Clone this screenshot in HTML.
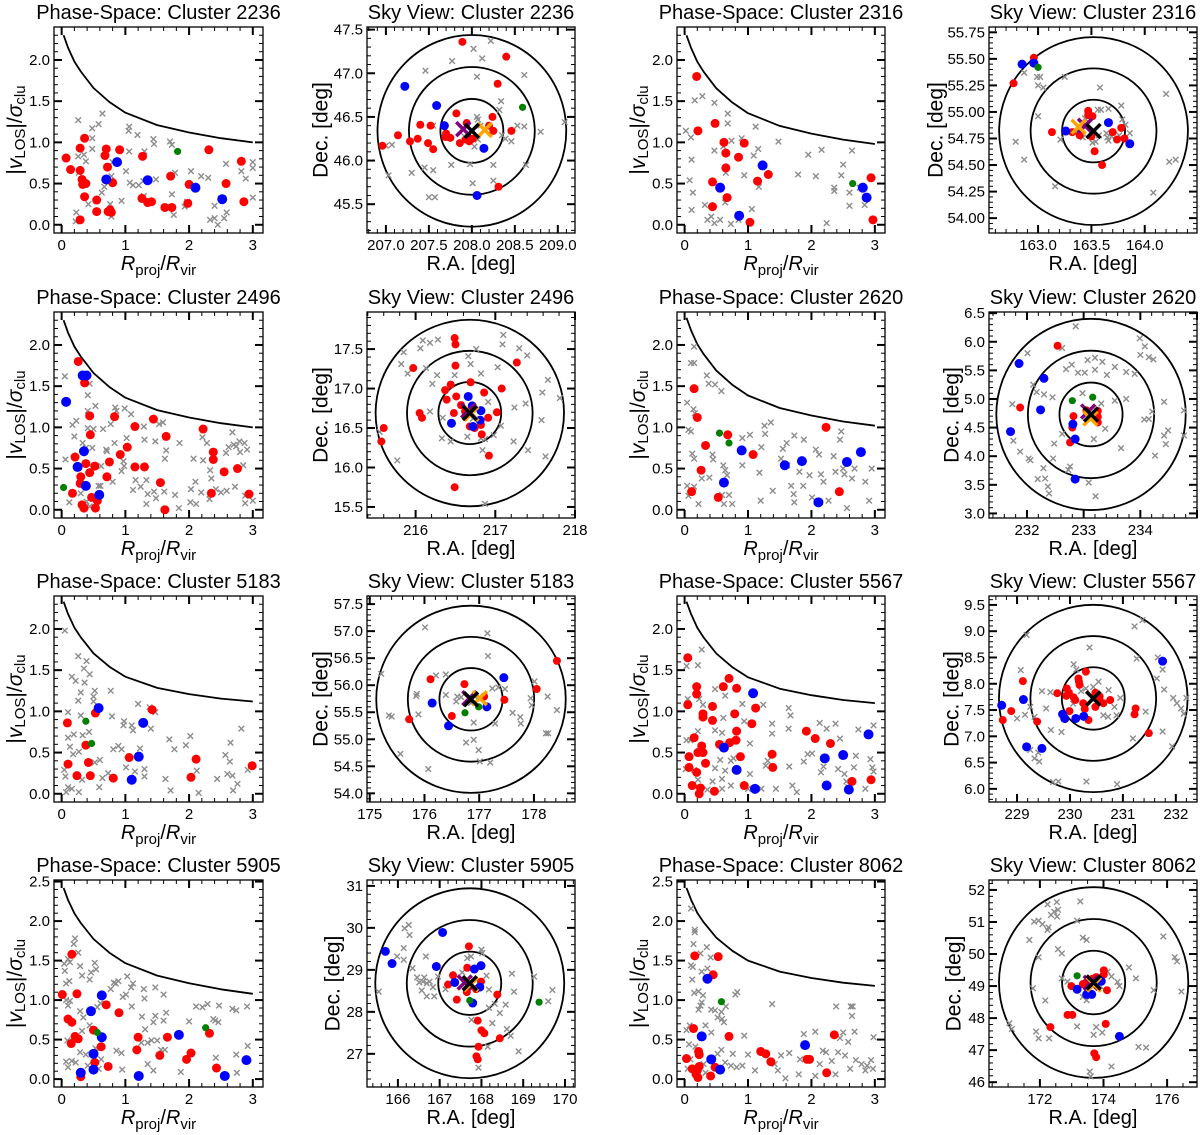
<!DOCTYPE html>
<html><head><meta charset="utf-8"><style>
html,body{margin:0;padding:0;background:#fff;}
svg{display:block;font-family:"Liberation Sans",sans-serif;}
</style></head><body>
<svg id="fig" width="1200" height="1135" viewBox="0 0 1200 1135" xmlns="http://www.w3.org/2000/svg"></svg>
<script>
// ---------- shared curve data (escape-velocity caustic, base shape) ----------
const curveX = [0.03,0.1,0.2,0.3,0.5,0.75,1,1.5,2,2.5,3];
const curveY = [2.3,2.15,1.98,1.86,1.66,1.49,1.36,1.21,1.12,1.05,1.0];

// ---------- Phase-space data [x,y,...] ----------
const ps2236_red=[0.07,0.81,0.14,0.67,0.29,0.93,0.36,1.05,0.29,0.66,0.32,0.55,0.35,0.51,0.38,0.50,0.33,0.49,0.36,0.34,0.29,0.06,0.55,0.30,0.55,0.16,0.68,0.84,0.7,0.92,0.72,0.70,0.8,0.51,0.76,0.18,0.78,0.15,0.73,0.16,0.91,0.91,1.27,0.83,1.26,0.32,1.35,0.27,1.41,0.28,1.62,0.21,1.73,0.21,1.71,0.59,2.0,0.49,1.98,0.26,2.31,0.91,2.58,0.50,2.82,0.77,2.86,0.28];
const ps2236_blue=[0.70,0.55,0.87,0.76,1.35,0.54,2.1,0.45,2.52,0.31];
const ps2236_green=[1.82,0.89];
const ps2236_gray=[0.26,1.27,0.64,1.35,0.48,1.17,0.58,1.22,1.06,1.19,1.05,1.14,1.19,1.09,1.44,1.04,1.45,0.98,1.70,1.01,1.73,0.97,0.48,1.05,0.48,0.92,0.26,0.83,0.35,0.85,0.38,0.77,0.27,0.63,0.8,0.76,0.78,0.59,1.01,0.65,1.06,0.89,1.07,0.51,1.12,0.48,1.21,0.48,1.3,0.89,1.48,0.55,1.73,0.37,1.78,0.63,2.03,0.65,2.19,0.59,2.3,0.57,2.58,0.74,2.4,0.23,2.33,0.06,2.4,0.08,2.45,0.0,2.55,0.08,2.59,0.15,2.82,0.65,3.0,0.76,3.0,0.69,2.89,0.56,3.0,0.33,0.23,0.15,0.22,0.04,0.42,0.25,0.63,0.39,0.67,0.46,0.76,0.25,0.78,0.1,0.94,0.29,1.97,0.28,1.93,0.22,1.76,0.12,1.29,0.35,1.28,0.53];

const ps2316_red=[0.19,1.8,0.21,1.14,0.48,1.23,0.62,1.0,0.65,0.87,0.94,0.99,0.85,0.82,0.65,0.69,0.44,0.52,0.67,0.33,0.44,0.22,1.03,0.03,1.15,0.53,1.32,0.61,2.94,0.57,2.97,0.06];
const ps2316_blue=[0.56,0.45,0.86,0.11,1.23,0.72,2.81,0.45,2.87,0.33];
const ps2316_green=[2.65,0.5];
const ps2316_gray=[0.02,1.14,0.16,1.51,0.28,1.56,0.47,1.48,0.68,1.35,0.68,1.23,0.1,1.06,0.11,0.79,0.08,0.54,0.13,0.39,0.11,0.18,0.32,0.24,0.36,0.06,0.42,0.10,0.47,0.02,0.56,0.06,0.64,0.27,0.65,0.63,0.47,0.90,0.61,0.95,0.73,0.01,0.85,0.06,0.9,1.05,0.94,0.6,1.06,0.19,1.09,0.84,1.12,1.19,1.16,0.92,1.17,0.46,1.48,1.01,1.79,0.61,1.95,0.85,2.07,0.59,2.16,0.91,2.24,0.02,2.36,0.45,2.36,0.41,2.47,0.60,2.5,0.73,2.6,0.39,2.6,0.23,2.64,0.9,2.84,0.24,2.76,0.45,0.74,1.02];

const ps2496_red=[0.26,1.8,0.36,1.54,0.44,1.14,0.45,0.91,0.21,0.64,0.38,0.56,0.52,0.53,0.44,0.45,0.3,0.4,0.29,0.32,0.17,0.2,0.32,0.06,0.35,0.02,0.47,0.15,0.56,0.11,0.53,0.02,0.75,0.58,0.71,0.4,0.83,1.13,0.92,0.67,1.03,0.76,1.15,1.01,1.15,0.52,1.3,0.52,1.44,1.1,1.64,0.89,1.55,0.33,1.62,0.0,2.22,0.98,2.38,0.7,2.38,0.61,2.55,0.46,2.35,0.2,2.76,0.5,2.94,0.19];
const ps2496_blue=[0.07,1.31,0.33,1.63,0.39,1.63,0.35,0.71,0.25,0.52,0.38,0.29,0.59,0.18];
const ps2496_green=[0.03,0.27];
const ps2496_gray=[0.05,1.62,0.06,0.61,0.17,1.03,0.23,1.08,0.2,0.89,0.33,0.81,0.38,0.75,0.41,1.39,0.44,1.53,0.41,1.2,0.53,1.26,0.41,0.99,0.5,0.98,0.48,0.75,0.65,0.98,0.7,0.73,0.71,0.71,0.77,1.04,0.84,1.24,0.86,1.2,0.83,0.81,0.99,1.23,1.09,1.16,1.02,0.87,0.97,0.59,0.98,0.53,0.94,0.47,0.62,0.53,0.61,0.29,0.58,0.29,0.8,0.34,1.12,0.24,1.16,0.36,1.24,0.28,1.33,0.36,1.35,0.19,1.33,0.07,1.45,0.22,1.48,0.14,1.61,0.22,1.62,0.62,1.64,0.72,1.59,1.06,1.53,1.04,1.3,0.85,1.47,0.83,1.29,1.01,1.85,0.81,1.78,0.18,1.84,0.02,2.02,0.09,2.11,0.07,2.03,0.25,2.07,0.62,2.1,0.34,2.19,0.21,2.22,0.6,2.28,0.81,2.21,0.88,2.33,0.48,2.35,0.38,2.32,0.13,2.42,0.25,2.5,0.21,2.58,0.69,2.62,0.76,2.59,0.23,2.68,0.94,2.7,0.79,2.74,0.77,2.79,0.83,2.8,0.7,2.87,0.81,2.91,0.73,2.85,0.54,2.72,0.28,2.88,0.08,3.0,0.11,2.88,0.17,0.12,0.09,0.3,0.2,0.44,0.04,0.39,0.1];

const ps2620_red=[0.15,1.47,0.2,1.12,0.33,0.78,0.26,0.48,0.11,0.22,0.53,0.15,0.68,0.91,1.08,0.67,2.23,1.0,2.44,0.22];
const ps2620_blue=[0.62,0.33,0.9,0.72,1.58,0.54,1.85,0.59,2.11,0.09,2.56,0.58,2.78,0.7];
const ps2620_green=[0.55,0.93,0.7,0.81];
const ps2620_gray=[0.04,1.3,0.15,1.78,0.1,1.78,0.15,1.98,0.35,1.63,0.38,1.53,0.48,1.52,0.58,1.44,0.14,1.22,0.16,1.17,0.06,0.97,0.1,0.95,0.12,0.68,0.15,0.62,0.04,0.29,0.06,0.17,0.15,0.28,0.22,0.07,0.27,0.38,0.39,0.39,0.44,0.67,0.45,0.61,0.61,0.54,0.64,0.48,0.67,0.42,0.59,0.18,0.62,0.07,0.7,0.18,0.75,0.07,0.91,0.54,0.91,0.87,1.03,0.91,1.18,0.45,1.2,0.11,1.21,0.76,1.26,1.02,1.27,0.92,1.36,1.06,1.39,0.23,1.52,0.62,1.55,0.74,1.61,0.81,1.62,0.54,1.68,0.29,1.72,0.19,1.73,0.09,1.81,0.46,1.87,0.29,1.97,0.42,2.01,0.15,2.07,0.73,2.12,0.67,2.15,0.43,2.19,0.34,2.27,0.11,2.35,0.65,2.38,0.46,2.45,0.85,2.47,0.95,2.5,0.5,2.52,0.43,2.56,0.02,2.64,0.38,2.68,0.5,2.85,0.34,2.91,0.11,2.95,0.5,1.88,0.85,1.73,0.9];

const ps5183_red=[0.09,0.86,0.1,0.36,0.38,0.59,0.24,0.22,0.42,0.38,0.45,0.22,0.53,0.98,0.81,0.19,1.06,0.44,1.42,1.02,2.03,0.2,2.11,0.42,2.99,0.34];
const ps5183_blue=[0.58,1.04,1.28,0.86,1.1,0.17,1.21,0.45];
const ps5183_green=[0.38,0.88,0.47,0.61];
const ps5183_gray=[0.05,1.98,0.26,1.67,0.39,1.61,0.35,1.52,0.44,1.45,0.16,1.42,0.22,1.37,0.36,1.35,0.3,1.23,0.52,1.25,0.5,1.18,0.26,1.13,0.77,1.25,0.1,0.99,0.3,0.95,0.5,1.12,0.19,0.72,0.1,0.68,0.33,0.71,0.43,0.75,0.13,0.57,0.27,0.51,0.18,0.48,0.04,0.29,0.06,0.21,0.1,0.08,0.16,0.06,0.27,0.02,0.07,0.02,0.32,0.17,0.52,0.38,0.6,0.41,0.64,0.19,0.59,0.08,0.73,0.25,0.81,0.54,0.79,0.94,0.89,0.58,0.98,0.88,0.97,0.83,1.1,0.83,1.12,0.77,1.01,0.32,0.94,0.54,1.15,0.27,1.23,0.55,1.3,0.3,1.3,0.21,1.2,1.09,1.4,0.79,1.47,0.99,1.38,1.05,1.69,0.66,1.77,0.54,1.63,0.18,1.71,0.04,1.95,0.59,2.02,0.7,2.12,0.28,2.15,0.01,2.44,0.18,2.57,0.47,2.64,0.39,2.65,0.62,2.6,0.24,2.68,0.22,2.76,0.12,2.69,0.04,2.82,0.79,2.92,0.29];

const ps5567_red=[0.05,1.65,0.05,1.08,0.19,1.3,0.19,1.21,0.29,0.97,0.29,0.93,0.15,0.68,0.07,0.45,0.07,0.32,0.21,0.5,0.29,0.5,0.27,0.58,0.33,0.37,0.19,0.26,0.12,0.1,0.25,0.07,0.23,0.0,0.47,0.03,0.44,1.06,0.44,0.89,0.61,1.3,0.7,1.4,0.82,1.28,0.79,0.97,0.82,0.76,0.81,0.65,0.71,0.62,0.55,0.6,0.88,0.45,0.94,0.1,1.06,0.85,1.12,1.04,1.38,0.48,1.39,0.32,1.92,0.76,2.06,0.67,2.3,0.61,2.64,0.15,2.94,0.17];
const ps5567_blue=[0.62,0.56,0.82,0.29,1.08,1.22,1.11,0.06,2.21,0.43,2.24,0.1,2.5,0.47,2.59,0.05,2.9,0.72];
const ps5567_green=[];
const ps5567_gray=[0.05,1.15,0.03,1.55,0.21,1.56,0.27,1.75,0.23,1.15,0.29,1.08,0.03,0.65,0.09,0.65,0.21,0.76,0.02,0.3,0.15,0.29,0.21,0.17,0.36,0.05,0.44,0.15,0.48,0.31,0.56,0.41,0.59,0.18,0.64,0.28,0.59,0.06,0.73,0.1,0.73,0.4,0.77,0.43,0.48,0.77,0.59,0.74,0.61,0.92,0.64,1.19,0.48,1.27,0.91,1.09,0.94,0.88,1.03,0.61,1.03,0.24,1.0,0.06,1.21,0.06,1.24,1.08,1.38,0.85,1.38,0.73,1.28,0.34,1.31,0.4,1.44,0.06,1.64,1.04,1.67,0.95,1.64,0.79,1.65,0.33,1.7,0.1,1.77,0.02,1.88,0.39,1.94,0.48,2.01,0.49,2.13,0.86,2.15,0.26,2.19,0.33,2.24,0.79,2.38,0.85,2.42,0.3,2.45,0.67,2.52,0.24,2.55,0.15,2.58,0.08,2.67,0.32,2.7,0.46,2.74,0.78,2.85,0.06,2.93,0.42,2.98,0.83,2.96,0.32,2.98,0.27];

const ps5905_red=[0.16,1.58,0.01,1.07,0.24,1.08,0.1,0.76,0.16,0.72,0.15,0.45,0.21,0.54,0.26,0.51,0.5,0.62,0.62,0.41,0.52,0.21,0.73,0.16,0.3,0.03,0.7,0.94,0.9,0.84,1.2,0.53,1.18,0.37,1.54,0.3,1.66,0.53,1.96,0.25,2.03,0.33,2.32,0.58,2.43,0.14];
const ps5905_blue=[0.63,1.06,0.46,0.86,0.63,0.53,0.5,0.32,0.5,0.12,0.3,0.08,1.21,0.04,1.84,0.56,2.56,0.04,2.9,0.24];
const ps5905_green=[0.56,0.59,2.26,0.65];
const ps5905_gray=[0.21,1.78,0.19,1.71,0.26,1.6,0.1,1.52,0.04,1.46,0.13,1.48,0.05,1.37,0.12,1.24,0.07,1.21,0.29,1.43,0.32,1.31,0.46,1.35,0.52,1.47,0.54,1.39,0.44,1.26,0.07,1.0,0.13,0.99,0.1,0.93,0.29,0.86,0.34,0.78,0.44,0.68,0.32,0.61,0.09,0.49,0.07,0.22,0.1,0.15,0.16,0.23,0.22,0.21,0.29,0.34,0.38,0.31,0.41,0.17,0.53,0.39,0.58,0.13,0.62,0.25,0.56,0.91,0.61,0.96,0.77,1.14,0.82,1.22,0.85,1.21,0.89,1.24,1.03,1.3,0.96,1.04,1.01,1.07,1.09,1.16,1.12,1.21,1.1,0.92,1.29,1.14,1.3,1.02,1.47,1.16,1.6,1.07,1.26,0.79,1.47,0.8,1.6,0.74,1.64,0.84,1.44,0.72,1.31,0.63,1.25,0.46,1.35,0.46,1.41,0.49,1.5,0.49,1.56,0.37,1.62,0.37,0.95,0.12,0.94,0.33,0.86,0.36,1.35,0.19,1.44,0.11,1.87,0.09,2.0,0.73,2.11,0.92,2.21,0.91,2.29,0.95,2.38,0.76,2.47,0.93,2.41,0.74,2.46,0.72,2.42,0.27,2.68,0.89,2.74,0.87,2.91,0.92,2.92,0.42,2.75,0.08,2.74,0.31];

const ps8062_red=[0.16,1.56,0.53,1.55,0.45,1.32,0.14,0.64,0.7,0.54,0.03,0.26,0.22,0.35,0.23,0.31,0.12,0.13,0.2,0.11,0.23,0.16,0.18,0.06,0.21,0.02,0.41,0.04,0.48,0.15,1.2,0.35,1.28,0.32,1.36,0.22,1.93,0.25,1.97,0.25,2.24,0.08,2.36,0.56];
const ps8062_blue=[0.36,1.27,0.27,0.54,0.42,0.25,0.56,0.12,1.9,0.43];
const ps8062_green=[0.58,0.98];
const ps8062_gray=[0.1,2.16,0.16,1.89,0.16,1.86,0.14,1.71,0.35,1.67,0.25,1.59,0.41,1.54,0.1,1.44,0.13,1.42,0.27,1.36,0.36,1.4,0.12,1.26,0.15,1.09,0.22,1.11,0.29,1.06,0.22,0.88,0.25,0.93,0.27,0.97,0.42,0.88,0.48,0.87,0.52,0.78,0.59,0.76,0.62,0.72,0.58,0.85,0.65,0.92,0.03,0.62,0.08,0.68,0.33,0.68,0.42,0.59,0.07,0.44,0.17,0.41,0.09,0.25,0.05,0.13,0.3,0.19,0.33,0.08,0.52,0.32,0.58,0.37,0.64,0.21,0.73,0.17,0.76,0.32,0.82,0.15,0.83,1.1,0.8,1.07,0.91,0.17,0.94,0.55,1.0,0.31,1.11,0.11,1.38,0.95,1.42,0.19,1.47,0.11,1.52,0.3,1.59,0.01,1.65,0.33,1.8,0.06,1.82,0.25,1.88,0.57,2.06,0.6,2.06,0.04,2.13,0.19,2.18,0.36,2.23,0.34,2.32,0.23,2.38,0.06,2.39,0.92,2.42,0.34,2.45,0.52,2.5,0.59,2.53,0.3,2.58,0.47,2.64,0.8,2.62,0.92,2.65,0.92,2.68,0.6,2.7,0.24,2.79,0.19,2.85,0.11,2.88,0.17,2.94,0.24,2.98,0.53,2.97,0.13,2.61,0.13];

// ---------- Sky data [ra,dec,...] ----------
const sk2236_red=[207.89,47.36,208.40,47.19,208.30,46.88,207.82,46.54,207.4,46.41,207.52,46.40,207.14,46.29,207.37,46.25,207.28,46.22,206.96,46.17,207.49,46.20,207.55,46.13,207.7,46.31,207.72,46.27,207.75,46.26,207.69,46.27,207.86,46.2,207.93,46.24,207.97,46.22,208.01,46.25,207.94,46.43,208.24,46.50,208.25,46.34,208.2,46.4,208.46,46.34,208.31,45.70];
const sk2236_blue=[207.22,46.85,207.59,46.63,207.68,46.40,208.14,46.14,208.06,45.6];
const sk2236_green=[208.59,46.61];
const sk2236_gray=[208.02,47.28,208.22,47.37,208.12,47.17,207.77,47.14,207.46,47.03,208.06,46.96,208.61,46.98,208.34,46.68,208.32,46.58,208.06,46.50,208.07,46.47,208.53,46.40,208.61,46.39,208.8,46.33,209.08,46.44,208.39,46.25,208.46,46.22,208.35,46.29,208.63,45.95,208.25,45.95,207.76,45.95,207.98,45.96,208.01,45.74,208.25,45.77,207.45,45.92,207.3,45.86,207.55,45.89,207.5,45.58,207.57,45.58,207.0,46.17,207.07,46.18,207.03,45.83,207.55,46.40,208.07,46.24,208.03,46.16,207.91,46.28,208.1,46.4];
const sk2236_mark=[207.9,46.36,208.15,46.35,208.0,46.34];

const sk2316_red=[162.96,55.51,162.77,55.27,163.13,54.81,163.32,54.81,163.39,54.78,163.47,54.97,163.51,54.96,163.47,55.01,163.5,54.77,163.53,54.63,163.6,54.5,163.7,54.81,163.78,54.85,163.74,54.74,163.81,54.75];
const sk2316_blue=[162.85,55.45,162.96,55.46,163.26,54.82,163.66,54.9,163.86,54.7];
const sk2316_green=[163.0,55.42];
const sk2316_gray=[162.87,55.37,162.99,55.33,163.02,55.33,163.0,55.25,163.05,55.23,163.25,55.33,163.58,55.23,163.0,54.96,162.79,54.72,162.87,54.55,163.16,54.3,164.2,55.17,164.23,54.53,164.29,54.55,164.08,54.24,163.78,55.06,163.66,55.03,163.56,55.02,163.59,55.02,163.79,54.93,163.82,54.88,163.86,54.8,163.76,54.78,163.64,54.8,163.65,54.76,163.57,54.78,163.54,54.72,163.51,54.71,163.42,54.76,163.35,54.8,163.21,54.74,163.44,54.94,163.66,54.73,163.69,54.77];
const sk2316_mark=[163.44,54.87,163.38,54.86,163.52,54.82];

const sk2496_red=[216.49,17.64,216.5,17.56,215.97,17.26,216.5,17.29,216.44,17.05,216.37,16.98,216.39,16.86,216.51,16.9,216.69,17.08,216.86,16.95,217.08,17.0,217.27,17.33,216.05,16.69,216.08,16.63,215.6,16.5,215.57,16.33,216.49,15.75,216.92,16.15,216.83,16.42,216.82,16.54,216.91,16.63,217.02,16.7,216.57,16.79,216.62,16.71,216.68,16.52,216.74,16.5,216.48,16.69];
const sk2496_blue=[216.66,16.9,216.82,16.72,216.45,16.56,216.81,16.6,216.72,16.52,216.71,16.78];
const sk2496_green=[];
const sk2496_gray=[216.09,17.61,216.28,17.62,216.18,17.58,215.85,17.46,216.06,17.51,215.82,17.31,215.9,17.19,216.13,17.26,216.21,17.06,216.27,17.17,216.49,17.17,216.66,17.41,216.76,17.5,216.69,17.31,216.82,17.19,217.03,17.27,217.1,17.68,217.09,17.56,217.3,17.51,217.4,17.42,217.66,17.11,217.81,16.88,217.59,16.95,217.38,16.81,217.24,16.76,217.58,16.6,217.23,16.33,217.41,16.22,217.63,16.14,216.98,16.41,216.84,16.22,216.87,16.36,216.33,16.37,216.18,16.71,215.77,16.09,215.55,16.45,216.87,15.54,217.07,16.53,216.34,16.63,216.91,16.83,216.44,16.33,216.65,16.39,216.82,16.37,216.72,16.62];
const sk2496_mark=[216.66,16.72,216.7,16.68,216.68,16.69];

const sk2620_red=[232.54,5.93,231.88,4.85,232.82,4.7,232.8,4.5,232.76,4.24,233.25,4.79,233.25,4.69,233.25,4.59,233.05,4.8];
const sk2620_blue=[231.86,5.62,232.3,5.36,232.24,4.81,231.71,4.43,232.81,4.56,232.85,4.3,232.85,3.6];
const sk2620_green=[232.8,4.97,233.16,5.03];
const sk2620_gray=[232.86,6.27,232.01,5.8,233.99,6.06,234.08,5.92,234.0,5.77,234.15,5.73,234.23,5.69,232.62,5.89,232.79,5.6,233.07,5.68,233.2,5.72,233.33,5.65,232.69,5.52,233.55,5.56,233.75,5.47,233.9,5.44,232.9,5.46,233.02,5.46,233.2,5.51,233.41,5.42,231.74,4.91,232.11,5.25,232.17,5.12,232.3,5.08,232.45,5.03,231.76,4.27,231.88,4.08,232.03,3.96,232.06,3.93,232.29,3.79,232.32,3.61,232.37,3.47,232.39,3.35,232.19,3.6,232.46,3.96,232.73,3.76,232.76,3.82,233.09,3.54,233.21,3.3,233.66,4.14,233.55,4.97,233.75,5.0,234.26,4.01,234.07,4.64,234.15,4.65,234.21,4.78,234.42,4.95,234.42,4.36,234.49,4.45,234.45,4.21,234.77,4.36,234.77,4.8,232.48,4.22,232.62,4.39,233.18,4.3,233.38,4.48,233.31,4.92,232.98,5.1];
const sk2620_mark=[233.08,4.78,233.12,4.66,233.13,4.73];

const sk5183_red=[176.11,56.11,176.73,56.02,176.5,55.43,175.72,55.37,177.09,55.79,177.46,55.73,178.05,55.93,178.42,56.45];
const sk5183_blue=[177.45,56.14,176.14,55.67,176.44,55.25,177.14,55.6];
const sk5183_green=[176.74,55.49,176.99,55.6];
const sk5183_gray=[176.01,57.07,177.15,56.96,177.16,56.54,175.21,56.21,176.21,56.18,176.39,56.2,175.86,55.84,175.85,55.8,176.39,55.82,176.6,55.79,176.67,55.78,176.92,55.79,177.24,55.94,177.35,55.96,177.47,55.93,177.94,55.76,178.01,56.07,178.25,55.79,178.42,55.54,178.22,55.11,178.26,55.11,177.96,55.63,177.75,55.41,177.76,55.29,177.61,55.49,177.29,55.29,176.9,55.31,176.76,54.94,176.9,54.99,176.99,54.8,177.01,54.59,177.2,54.57,176.07,54.45,175.56,54.73,175.35,55.44,175.4,55.42,175.89,55.46,176.85,55.67,176.58,55.7];
const sk5183_mark=[176.82,55.76,177.01,55.76,176.85,55.74];

const sk5567_red=[229.11,8.05,228.89,7.48,228.73,7.31,229.38,7.28,229.76,7.82,229.94,7.91,229.98,7.83,229.93,7.77,230.07,7.74,230.16,8.1,230.17,8.04,230.3,8.23,230.18,7.98,230.1,7.69,229.99,7.48,230.25,7.63,230.28,7.52,230.35,7.31,230.48,7.83,230.56,7.76,230.48,7.56,230.63,7.63,230.76,7.69,231.24,7.53,231.22,7.42,231.49,7.06,229.91,7.33,230.56,7.69];
const sk5567_blue=[228.71,7.59,229.12,7.7,229.18,6.8,229.47,6.77,229.86,7.42,229.9,7.34,230.11,7.34,230.26,7.38,231.75,8.43];
const sk5567_green=[];
const sk5567_gray=[229.07,8.26,229.18,8.93,230.37,8.69,231.22,9.09,231.37,9.21,231.26,8.48,231.66,8.5,231.75,8.27,231.64,8.1,231.78,7.89,231.95,7.73,232.02,7.63,232.1,7.53,232.15,7.43,232.2,7.73,231.93,6.81,231.75,7.09,231.43,7.47,231.19,6.96,230.89,6.09,230.31,6.14,229.78,6.14,229.68,6.13,229.4,6.69,229.42,6.52,229.33,6.58,229.25,6.74,229.0,7.34,229.15,7.41,229.33,7.37,229.64,7.12,229.84,7.08,229.47,7.86,229.63,7.84,229.55,7.53,229.25,7.56,230.07,8.37,230.12,8.27,230.54,8.04,230.73,7.88,230.95,7.73,230.84,7.56,230.88,7.4,230.63,7.4,230.72,7.37,230.06,7.62,230.3,7.91,230.21,7.86,230.44,7.94];
const sk5567_mark=[230.44,7.72,230.44,7.72,230.44,7.72];

const sk5905_red=[167.7,29.56,167.66,29.05,167.32,28.87,167.2,28.65,167.41,28.29,167.65,28.47,167.87,28.54,167.99,28.72,168.38,28.41,167.91,27.79,168.0,27.56,168.07,27.49,167.93,27.17,167.88,26.94,167.91,26.87,168.44,27.37];
const sk5905_blue=[165.7,29.44,165.86,29.15,167.07,29.89,166.92,29.08,167.36,28.7,167.83,29.02,167.99,29.1,167.96,28.59,167.79,28.21];
const sk5905_green=[167.72,28.27,169.38,28.23];
const sk5905_gray=[166.16,29.99,166.26,30.07,166.28,29.83,166.14,29.52,166.14,29.24,166.35,29.04,166.46,28.82,166.51,28.7,166.6,28.72,166.63,28.82,166.69,28.68,166.76,28.72,166.84,28.59,166.96,28.84,167.14,28.54,166.67,29.32,166.87,28.37,166.57,28.51,166.69,28.37,165.54,28.48,165.98,29.32,167.66,29.28,167.75,29.32,168.0,29.48,168.02,29.4,167.54,28.94,168.12,28.86,168.18,28.53,168.18,28.1,168.58,28.17,168.73,28.91,168.78,28.48,169.26,28.84,169.7,28.52,169.6,28.25,168.44,27.97,168.32,28.19,168.61,27.59,168.7,27.43,168.89,27.06,168.15,27.17,167.93,26.67,168.26,27.73,167.76,27.81];
const sk5905_mark=[167.6,28.7,167.75,28.66,167.72,28.68];

const sk8062_red=[172.99,49.0,173.35,49.06,173.47,49.13,173.65,49.23,173.77,49.28,174.01,49.49,174.01,49.36,174.11,48.87,172.87,48.1,173.02,48.1,172.33,47.72,174.07,47.82,173.71,46.9,173.77,46.78];
const sk8062_blue=[173.17,48.9,173.47,48.74,173.63,48.74,173.93,49.15,174.5,47.43];
const sk8062_green=[173.17,49.32];
const sk8062_gray=[171.82,51.01,171.96,51.04,172.08,50.93,172.24,50.75,172.35,51.22,172.24,51.55,172.45,51.32,172.57,51.38,172.53,51.62,172.54,51.17,172.27,50.83,171.67,50.44,173.27,51.64,173.17,51.04,173.35,50.51,173.47,50.44,172.57,50.15,172.69,50.02,171.96,49.9,171.78,48.93,172.17,48.55,171.88,47.58,171.96,47.37,172.29,47.37,171.04,47.84,171.12,47.66,174.8,49.58,175.02,49.24,175.58,48.87,175.88,50.55,176.24,49.9,176.31,49.77,176.45,48.83,175.1,47.1,175.34,47.08,174.25,46.49,173.57,46.33,173.6,46.18,173.17,47.74,173.69,47.48,173.96,47.55,173.77,47.72,172.69,49.24,172.87,49.14,174.25,49.3,174.5,49.0,174.13,49.45,173.35,48.66,173.47,48.56,174.44,49.13,173.9,49.0];
const sk8062_mark=[173.6,49.1,173.7,49.05,173.69,49.11];

// ---------- circle radii (R_vir in degrees) ----------
const rvirDeg = {c2236:0.366,c2316:0.295,c2496:0.394,c2620:0.557,c5183:0.577,c5567:0.594,c5905:0.754,c8062:0.992};

const NS='http://www.w3.org/2000/svg';
const svg=document.getElementById('fig');
function mk(tag,attrs,parent){const e=document.createElementNS(NS,tag);for(const k in attrs)e.setAttribute(k,attrs[k]);(parent||svg).appendChild(e);return e;}

const COLS=[[54,263],[367,575],[677,885],[989,1197]];
const ROWS=[[27,233],[312,518],[596,802],[880,1087]];

const panels=[
 {t:'ps',id:'2236',r:0,c:0,end:1.0,start:2.3,red:ps2236_red,blue:ps2236_blue,green:ps2236_green,gray:ps2236_gray},
 {t:'sky',id:'2236',r:0,c:1,xr:[206.78,209.2],yr:[45.17,47.53],xt:[207,209,0.5,0.1,1],yt:[45.5,47.5,0.5,0.1,1],lab:46,red:sk2236_red,blue:sk2236_blue,green:sk2236_green,gray:sk2236_gray,mark:sk2236_mark,R:rvirDeg.c2236},
 {t:'ps',id:'2316',r:0,c:2,end:0.98,start:2.3,red:ps2316_red,blue:ps2316_blue,green:ps2316_green,gray:ps2316_gray},
 {t:'sky',id:'2316',r:0,c:3,xr:[162.54,164.49],yr:[53.86,55.80],xt:[163,164,0.5,0.1,1],yt:[54,55.75,0.25,0.05,2],lab:53,red:sk2316_red,blue:sk2316_blue,green:sk2316_green,gray:sk2316_gray,mark:sk2316_mark,R:rvirDeg.c2316},
 {t:'ps',id:'2496',r:1,c:0,end:1.0,start:2.3,red:ps2496_red,blue:ps2496_blue,green:ps2496_green,gray:ps2496_gray},
 {t:'sky',id:'2496',r:1,c:1,xr:[215.39,218.0],yr:[15.36,17.97],xt:[216,218,1,0.2,0],yt:[15.5,17.5,0.5,0.1,1],lab:46,red:sk2496_red,blue:sk2496_blue,green:sk2496_green,gray:sk2496_gray,mark:sk2496_mark,R:rvirDeg.c2496},
 {t:'ps',id:'2620',r:1,c:2,end:1.02,start:2.33,red:ps2620_red,blue:ps2620_blue,green:ps2620_green,gray:ps2620_gray},
 {t:'sky',id:'2620',r:1,c:3,xr:[231.33,235.0],yr:[2.92,6.52],xt:[232,234,1,0.2,0],yt:[3,6.5,0.5,0.1,1],lab:37,red:sk2620_red,blue:sk2620_blue,green:sk2620_green,gray:sk2620_gray,mark:sk2620_mark,R:rvirDeg.c2620},
 {t:'ps',id:'5183',r:2,c:0,end:1.12,start:2.33,red:ps5183_red,blue:ps5183_blue,green:ps5183_green,gray:ps5183_gray},
 {t:'sky',id:'5183',r:2,c:1,xr:[174.95,178.75],yr:[53.84,57.65],xt:[175,178,1,0.2,0],yt:[54,57.5,0.5,0.1,1],lab:46,red:sk5183_red,blue:sk5183_blue,green:sk5183_green,gray:sk5183_gray,mark:sk5183_mark,R:rvirDeg.c5183},
 {t:'ps',id:'5567',r:2,c:2,end:1.1,start:2.33,red:ps5567_red,blue:ps5567_blue,green:ps5567_green,gray:ps5567_gray},
 {t:'sky',id:'5567',r:2,c:3,xr:[228.47,232.4],yr:[5.75,9.67],xt:[229,232,1,0.2,0],yt:[6,9.5,0.5,0.1,1],lab:37,red:sk5567_red,blue:sk5567_blue,green:sk5567_green,gray:sk5567_gray,mark:sk5567_mark,R:rvirDeg.c5567},
 {t:'ps',id:'5905',r:3,c:0,end:1.08,start:2.42,red:ps5905_red,blue:ps5905_blue,green:ps5905_green,gray:ps5905_gray},
 {t:'sky',id:'5905',r:3,c:1,xr:[165.26,170.24],yr:[26.21,31.14],xt:[166,170,1,0.2,0],yt:[27,31,1,0.2,0],lab:34,red:sk5905_red,blue:sk5905_blue,green:sk5905_green,gray:sk5905_gray,mark:sk5905_mark,R:rvirDeg.c5905},
 {t:'ps',id:'8062',r:3,c:2,end:1.18,start:2.42,red:ps8062_red,blue:ps8062_blue,green:ps8062_green,gray:ps8062_gray},
 {t:'sky',id:'8062',r:3,c:3,xr:[170.4,176.94],yr:[45.85,52.31],xt:[172,176,2,0.5,0],yt:[46,52,1,0.2,0],lab:35,red:sk8062_red,blue:sk8062_blue,green:sk8062_green,gray:sk8062_gray,mark:sk8062_mark,R:rvirDeg.c8062},
];

function drawPanel(p){
  const [x0,x1]=COLS[p.c],[y0,y1]=ROWS[p.r];
  const g=mk('g',{});
  
  
  let xr,yr,xt,yt;
  if(p.t==='ps'){xr=[-0.12,3.16];yr=p.r===3?[-0.1,2.52]:[-0.1,2.4];xt=[0,3,1,0.2,0];yt=[0,p.r===3?2.5:2.0,0.5,0.1,1];}
  else{xr=p.xr;yr=p.yr;xt=p.xt;yt=p.yt;}
  const sx=v=>x0+(v-xr[0])/(xr[1]-xr[0])*(x1-x0);
  const sy=v=>y1-(v-yr[0])/(yr[1]-yr[0])*(y1-y0);
  const clip='clip'+p.t+p.id;
  const cp=mk('clipPath',{id:clip},g);mk('rect',{x:x0,y:y0,width:x1-x0,height:y1-y0},cp);
  const plot=mk('g',{'clip-path':'url(#'+clip+')'},g);
  const tt=mk('text',{x:(x0+x1)/2,y:y0-8,'text-anchor':'middle','font-size':'20'},g);
  tt.textContent=(p.t==='ps'?'Phase-Space: Cluster ':'Sky View: Cluster ')+p.id;
  
  
  const tk=mk('g',{stroke:'#000','stroke-width':'1'},g);
  for(let v=Math.ceil(xr[0]/xt[3]-1e-6)*xt[3];v<=xr[1]+1e-9;v+=xt[3]){
    const major=Math.abs(v/xt[2]-Math.round(v/xt[2]))<1e-4;const L=major?8:4;const X=sx(v);
    mk('line',{x1:X,x2:X,y1:y1,y2:y1-L,'stroke-width':major?2:1},tk);
    mk('line',{x1:X,x2:X,y1:y0,y2:y0+L,'stroke-width':major?2:1},tk);
  }
  for(let v=Math.ceil(yr[0]/yt[3]-1e-6)*yt[3];v<=yr[1]+1e-9;v+=yt[3]){
    const major=Math.abs(v/yt[2]-Math.round(v/yt[2]))<1e-4;const L=major?8:4;const Y=sy(v);
    mk('line',{y1:Y,y2:Y,x1:x0,x2:x0+L,'stroke-width':major?2:1},tk);
    mk('line',{y1:Y,y2:Y,x1:x1,x2:x1-L,'stroke-width':major?2:1},tk);
  }
  for(let v=xt[0];v<=xt[1]+1e-9;v+=xt[2]){
    const t=mk('text',{x:sx(v),y:y1+17,'text-anchor':'middle','font-size':'15'},g);t.textContent=v.toFixed(xt[4]);
  }
  for(let v=yt[0];v<=yt[1]+1e-9;v+=yt[2]){
    const t=mk('text',{x:x0-4,y:sy(v)+5,'text-anchor':'end','font-size':'15'},g);t.textContent=v.toFixed(yt[4]);
  }
  const fr=mk('rect',{x:x0,y:y0,width:x1-x0,height:y1-y0,fill:'none',stroke:'#000','stroke-width':'1.3'},g);
  
  
  const xl=mk('text',{x:(x0+x1)/2,y:y1+37,'text-anchor':'middle','font-size':'20'},g);
  
  
  const ylx=p.t==='ps'?x0-39:x0-(p.lab||46);
  const yl=mk('text',{x:ylx,y:(y0+y1)/2,'text-anchor':'middle','font-size':'21',transform:'rotate(-90 '+ylx+' '+(y0+y1)/2+')','dominant-baseline':'central'},g);
  
  
  if(p.t==='ps'){
    xl.innerHTML='<tspan font-style="italic">R</tspan><tspan font-size="15" dy="5">proj</tspan><tspan dy="-5">/</tspan><tspan font-style="italic">R</tspan><tspan font-size="15" dy="5">vir</tspan>';
    yl.innerHTML='|<tspan font-style="italic">v</tspan><tspan font-size="15" dy="5">LOS</tspan><tspan dy="-5">|/</tspan><tspan font-style="italic">σ</tspan><tspan font-size="15" dy="5">clu</tspan>';
    let d='';
    curveX.forEach((x,i)=>{const y=curveY[i]+(p.end-1)*x/3+(p.start-2.3)*(1-x/3);d+=(i?'L':'M')+sx(x).toFixed(1)+','+sy(y).toFixed(1);});
    const cv=mk('path',{d:d,fill:'none',stroke:'#000','stroke-width':'1.8','stroke-linejoin':'round'},plot);
    
    
  } else {
    xl.textContent='R.A. [deg]';
    yl.textContent='Dec. [deg]';
    const cx=p.mark[4],cy=p.mark[5];
    const kx=(x1-x0)/(xr[1]-xr[0]),ky=(y1-y0)/(yr[1]-yr[0]);
    for(let k=1;k<=3;k++){
      const el=mk('ellipse',{cx:sx(cx),cy:sy(cy),rx:p.R*k*kx,ry:p.R*k*ky,fill:'none',stroke:'#000','stroke-width':'1.8'},plot);
      
      
    }
  }
  const big=p.t==='ps'?4.5:4;
  const pts=(arr,fn)=>{for(let i=0;i<arr.length;i+=2)fn(sx(arr[i]),sy(arr[i+1]));};
  pts(p.gray,(X,Y)=>{const s=2.8;const e=mk('path',{d:`M${X-s},${Y-s}L${X+s},${Y+s}M${X-s},${Y+s}L${X+s},${Y-s}`,stroke:'#8c8c8c','stroke-width':'1.4'},plot);
    
    });
  pts(p.red,(X,Y)=>{const e=mk('circle',{cx:X,cy:Y,r:big,fill:'#ff0000'},plot);
    
    });
  pts(p.blue,(X,Y)=>{const e=mk('circle',{cx:X,cy:Y,r:big+0.5,fill:'#0000ff'},plot);
    
    });
  pts(p.green,(X,Y)=>{const e=mk('circle',{cx:X,cy:Y,r:3.6,fill:'#007f00'},plot);
    
    });
  if(p.mark){
    const cols=['#800080','#ffa500','#000000'];
    for(let i=0;i<3;i++){const X=sx(p.mark[2*i]),Y=sy(p.mark[2*i+1]),s=7;
      const e=mk('path',{d:`M${X-s},${Y-s}L${X+s},${Y+s}M${X-s},${Y+s}L${X+s},${Y-s}`,stroke:cols[i],'stroke-width':'3.5'},plot);
      
      }
  }
}
panels.forEach(drawPanel);
</script>
</body></html>
